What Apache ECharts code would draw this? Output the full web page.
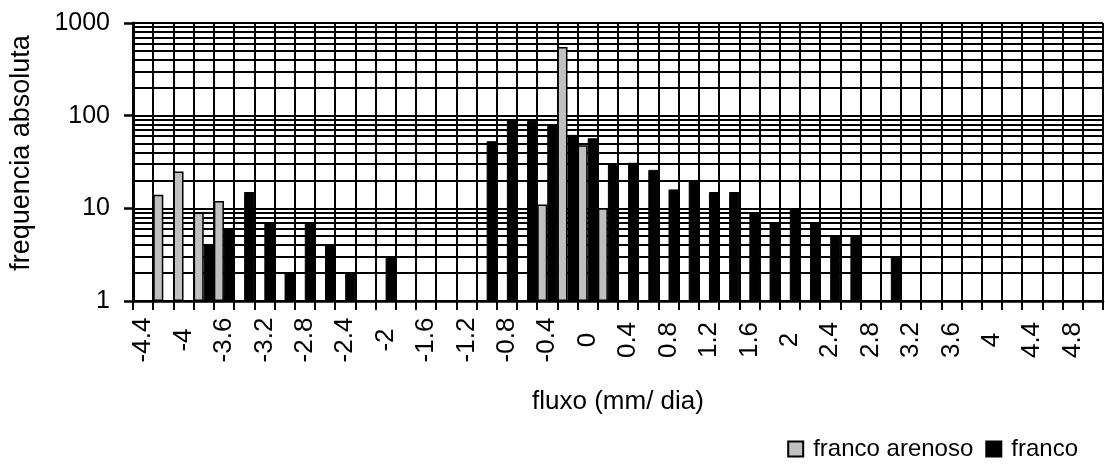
<!DOCTYPE html>
<html>
<head>
<meta charset="utf-8">
<script src="https://cdn.jsdelivr.net/npm/echarts@6/dist/echarts.min.js"></script>
<style>
html,body{margin:0;padding:0;background:#fff;}
#c{width:1105px;height:469px;}
</style>
</head>
<body>
<div id="c"></div>
<script>
const categories = ["-4.4","-4.2","-4","-3.8","-3.6","-3.4","-3.2","-3","-2.8","-2.6","-2.4","-2.2","-2","-1.8","-1.6","-1.4","-1.2","-1","-0.8","-0.6","-0.4","-0.2","0","0.2","0.4","0.6","0.8","1","1.2","1.4","1.6","1.8","2","2.2","2.4","2.6","2.8","3","3.2","3.4","3.6","3.8","4","4.2","4.4","4.6","4.8","5"];
const francoArenoso = [null,14,25,9,12,null,null,null,null,null,null,null,null,null,null,null,null,null,null,null,11,550,48,10,null,null,null,null,null,null,null,null,null,null,null,null,null,null,null,null,null,null,null,null,null,null,null,null];
const franco = [null,null,null,4,6,15,7,2,7,4,2,null,3,null,null,null,null,53,92,88,79,62,57,30,31,26,16,20,15,15,9,7,10,7,5,5,null,3,null,null,null,null,null,null,null,null,null,null];
const yMajorTicks = [1,10,100,1000];
const yMinorGrid = [2,3,4,5,6,7,8,9,20,30,40,50,60,70,80,90,200,300,400,500,600,700,800,900];

const FONT = "'Liberation Sans', Arial, sans-serif";
const chart = echarts.init(document.getElementById('c'), null, {renderer:'canvas'});
chart.setOption({
  animation:false,
  backgroundColor:'#fff',
  grid:{left:133,right:2,top:23,bottom:168,containLabel:false},
  legend:{
    data:['franco arenoso','franco'],
    right:22, top:432,
    itemWidth:15, itemHeight:15, itemGap:12,
    icon:'rect',
    textStyle:{fontFamily:FONT,fontSize:24,color:'#000',padding:[0,0,0,5]}
  },
  xAxis:{
    type:'category',
    data:categories,
    boundaryGap:true,
    name:'fluxo (mm/ dia)',
    nameLocation:'middle',
    nameGap:88,
    nameTextStyle:{fontFamily:FONT,fontSize:26,color:'#000'},
    axisLine:{show:true,lineStyle:{color:'#000',width:2.5}},
    axisTick:{show:true,interval:0,length:9,lineStyle:{color:'#000',width:2}},
    axisLabel:{interval:1,rotate:90,align:'center',verticalAlign:'middle',margin:39,fontFamily:FONT,fontSize:26,color:'#000'},
    splitLine:{show:true,interval:0,lineStyle:{color:'#000',width:2}}
  },
  yAxis:{
    type:'log',
    logBase:10,
    min:yMajorTicks[0],
    max:yMajorTicks[yMajorTicks.length-1],
    name:'frequencia absoluta',
    nameLocation:'middle',
    nameGap:98,
    nameTextStyle:{fontFamily:FONT,fontSize:27,color:'#000',padding:[0,0,0,18]},
    axisLine:{show:true,lineStyle:{color:'#000',width:3}},
    axisTick:{show:true,length:9,lineStyle:{color:'#000',width:2.5}},
    axisLabel:{margin:23,fontFamily:FONT,fontSize:25,color:'#000',formatter:function(v){return String(v);}},
    splitLine:{show:true,lineStyle:{color:'#000',width:2}}
  },
  series:[
    {
      name:'franco arenoso',
      type:'bar',
      data:francoArenoso,
      barGap:'0%',
      barCategoryGap:'0%',
      itemStyle:{color:'#c0c0c0',borderColor:'#000',borderWidth:1.5},
      z:3
    },
    {
      name:'franco',
      type:'bar',
      data:franco,
      barGap:'0%',
      barCategoryGap:'0%',
      itemStyle:{color:'#000',borderColor:'#000',borderWidth:1},
      z:3,
      markLine:{
        silent:true,
        z:1,
        symbol:['none','none'],
        label:{show:false},
        lineStyle:{color:'#000',width:2,type:'solid'},
        emphasis:{disabled:true},
        data:yMinorGrid.map(v=>({yAxis:v}))
      }
    }
  ]
});
</script>
</body>
</html>
